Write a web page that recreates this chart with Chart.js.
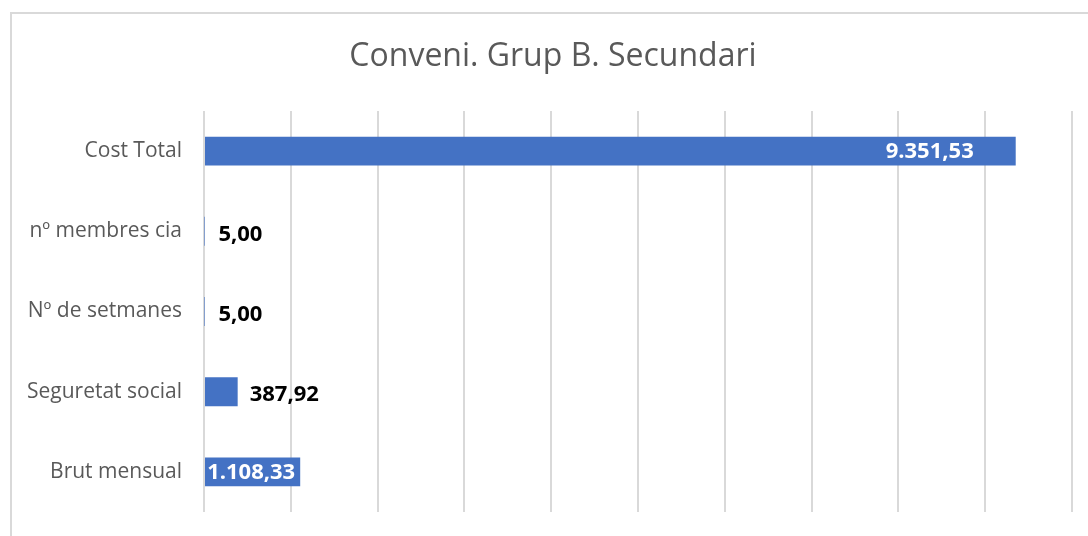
<!DOCTYPE html>
<html><head><meta charset="utf-8">
<script src="https://cdn.jsdelivr.net/npm/chart.js@4.4.1/dist/chart.umd.min.js"></script>
<style>html,body{margin:0;padding:0;background:#fff;}#wrap{width:1088px;height:536px;}</style>
</head><body><div id="wrap"><canvas id="c" width="1088" height="536"></canvas></div>
<script>
const chartTitle = 'Conveni. Grup B. Secundari';
const categories = ['Cost Total', 'nº membres cia', 'Nº de setmanes', 'Seguretat social', 'Brut mensual'];
const values = [9351.53, 5.00, 5.00, 387.92, 1108.33];
const xTicks = [0, 1000, 2000, 3000, 4000, 5000, 6000, 7000, 8000, 9000, 10000];

function fmt(v){
  const parts = v.toFixed(2).split('.');
  const intPart = parts[0].replace(/\B(?=(\d{3})+(?!\d))/g, '.');
  return intPart + ',' + parts[1];
}

const frame = {
  id:'frame',
  beforeDraw(chart){
    const ctx = chart.ctx;
    ctx.save();
    ctx.fillStyle='#fff';
    ctx.fillRect(0,0,chart.width,chart.height);
    ctx.strokeStyle='#d9d9d9';
    ctx.lineWidth=2;
    ctx.strokeRect(11,13,1100,560);
    ctx.fillStyle='#595959';
    ctx.font='32px "Open Sans"';
    ctx.textAlign='center';
    ctx.textBaseline='middle';
    ctx.fillText(chartTitle, 553, 57);
    ctx.restore();
  }
};

const labelsPlugin = {
  id:'barLabels',
  afterDatasetsDraw(chart, args, opts){
    const ctx = chart.ctx;
    const meta = chart.getDatasetMeta(0);
    ctx.save();
    ctx.font = 'bold 22px "Open Sans"';
    ctx.textBaseline = 'middle';
    meta.data.forEach((bar, i) => {
      const txt = fmt(chart.data.datasets[0].data[i]);
      const p = opts.placement[i];
      if (p.inside){
        ctx.fillStyle = '#ffffff';
        ctx.textAlign = 'right';
        ctx.fillText(txt, bar.x - p.offset, bar.y + 1);
      } else {
        ctx.fillStyle = '#000000';
        ctx.textAlign = 'left';
        ctx.fillText(txt, bar.x + p.offset, bar.y + 3);
      }
    });
    ctx.restore();
  }
};

new Chart(document.getElementById('c'), {
  type:'bar',
  data:{
    labels: categories,
    datasets:[{
      data: values,
      backgroundColor:'#4472C4',
      borderWidth:0,
      barPercentage:0.36,
      categoryPercentage:1
    }]
  },
  options:{
    indexAxis:'y',
    responsive:false,
    animation:false,
    events:[],
    layout:{padding:{left:0,right:16,top:111,bottom:24}},
    plugins:{
      legend:{display:false},
      tooltip:{enabled:false},
      title:{display:false},
      barLabels:{
        placement:[
          {inside:true, offset:42},
          {inside:false, offset:14},
          {inside:false, offset:14},
          {inside:false, offset:12},
          {inside:true, offset:5}
        ]
      }
    },
    scales:{
      x:{
        min:0, max:10000,
        afterBuildTicks(scale){ scale.ticks = xTicks.map(v => ({value:v})); },
        ticks:{display:false},
        grid:{color:'#d9d9d9', lineWidth:2, drawTicks:false},
        border:{display:false}
      },
      y:{
        afterFit(scale){ scale.width = 204; scale.paddingTop = 0; scale.paddingBottom = 0; },
        ticks:{color:'#595959', font:{family:'"Open Sans"', size:21}, padding:22},
        grid:{display:false, drawTicks:false},
        border:{display:false}
      }
    }
  },
  plugins:[frame, labelsPlugin]
});
</script>
</body></html>
